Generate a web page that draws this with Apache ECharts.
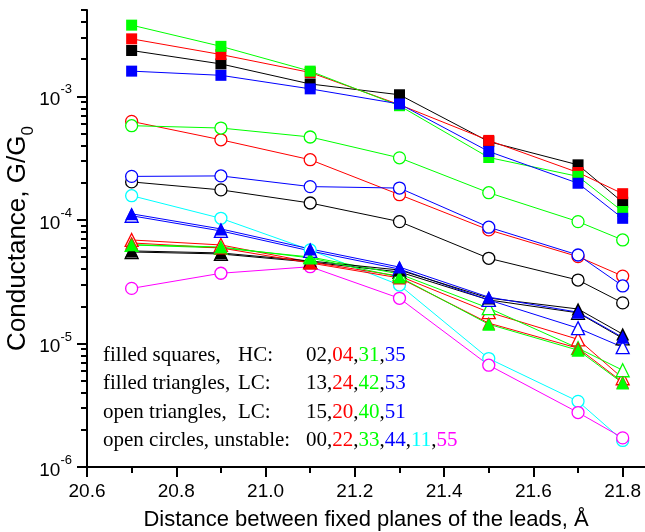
<!DOCTYPE html>
<html><head><meta charset="utf-8">
<script src="https://cdn.jsdelivr.net/npm/echarts@6/dist/echarts.min.js"></script>
<style>html,body{margin:0;padding:0;background:#fff}#c{width:645px;height:532px}</style>
</head><body><div id="c"></div>
<script>
// ---- data ----
const xValues = [20.7, 20.9, 21.1, 21.3, 21.5, 21.7, 21.8];

// filled squares, HC
const hc02 = [2.35e-3, 1.83e-3, 1.26e-3, 1.03e-3, 4.3e-4, 2.79e-4, 1.39e-4];
const hc04 = [2.92e-3, 2.18e-3, 1.56e-3, 8.56e-4, 4.40e-4, 2.42e-4, 1.63e-4];
const hc31 = [3.77e-3, 2.54e-3, 1.60e-3, 8.4e-4, 3.2e-4, 2.25e-4, 1.17e-4];
const hc35 = [1.60e-3, 1.48e-3, 1.15e-3, 8.68e-4, 3.58e-4, 1.98e-4, 1.03e-4];

// filled triangles, LC
const lc13 = [5.61e-5, 5.40e-5, 4.65e-5, 3.93e-5, 2.33e-5, 1.90e-5, 1.19e-5];
const lc24 = [6.51e-5, 5.93e-5, 4.48e-5, 3.39e-5, 1.46e-5, 9.16e-6, 4.86e-6];
const lc42 = [6.3e-5, 6.04e-5, 4.92e-5, 3.45e-5, 1.43e-5, 8.82e-6, 4.78e-6];
const lc53 = [1.12e-4, 8.45e-5, 5.82e-5, 4.15e-5, 2.37e-5, 1.79e-5, 1.12e-5];

// open triangles, LC
const lc15 = [5.50e-5, 5.30e-5, 4.56e-5, 3.79e-5, 2.25e-5, 1.77e-5, 1.10e-5];
const lc20 = [6.88e-5, 6.27e-5, 4.56e-5, 3.51e-5, 1.79e-5, 1.08e-5, 5.23e-6];
const lc40 = [6.27e-5, 5.93e-5, 5.01e-5, 3.65e-5, 1.93e-5, 9.16e-6, 6.07e-6];
const lc51 = [1.08e-4, 8.14e-5, 5.61e-5, 4.00e-5, 2.25e-5, 1.33e-5, 9.33e-6];

// open circles, unstable
const un00 = [2.03e-4, 1.75e-4, 1.37e-4, 9.69e-5, 4.89e-5, 3.26e-5, 2.13e-5];
const un22 = [6.27e-4, 4.45e-4, 3.07e-4, 1.60e-4, 8.30e-5, 5.04e-5, 3.51e-5];
const un33 = [5.79e-4, 5.54e-4, 4.69e-4, 3.18e-4, 1.66e-4, 9.69e-5, 6.88e-5];
const un44 = [2.25e-4, 2.27e-4, 1.86e-4, 1.81e-4, 8.73e-5, 5.20e-5, 2.92e-5];
const un11 = [1.57e-4, 1.03e-4, 5.71e-5, 2.97e-5, 7.55e-6, 3.40e-6, 1.64e-6];
const un55 = [2.79e-5, 3.70e-5, 4.18e-5, 2.32e-5, 6.67e-6, 2.76e-6, 1.72e-6];

// ticks
const xTickLabels = [20.6, 20.8, 21.0, 21.2, 21.4, 21.6, 21.8];
const xMinorTicks = [20.7, 20.9, 21.1, 21.3, 21.5, 21.7];
const yTickLabels = [1e-6, 1e-5, 1e-4, 1e-3];

// legend text rows
const legendRows = [
  ['filled squares,', 'HC:', ['02', '04', '31', '35']],
  ['filled triangles,', 'LC:', ['13', '24', '42', '53']],
  ['open triangles,', 'LC:', ['15', '20', '40', '51']],
  ['open circles, unstable:', '', ['00', '22', '33', '44', '11', '55']]
];

// ---- styling ----
const C = { k: '#000000', r: '#ff0000', g: '#00ff00', b: '#0000ff', c: '#00ffff', m: '#ff00ff' };
const numColors = [C.k, C.r, C.g, C.b, C.c, C.m];
const yMinorTicks = [];
for (let e = -6; e <= -3; e++) {
  for (let m = 2; m <= 9; m++) {
    const v = m * Math.pow(10, e);
    if (v <= 5.0001e-3) yMinorTicks.push(v);
  }
}

function mk(name, vals, color, symbol, size, filled) {
  return {
    name, type: 'line',
    data: xValues.map((x, i) => [x, vals[i]]),
    symbol, symbolSize: size, showSymbol: true,
    lineStyle: { color, width: 1 },
    itemStyle: filled ? { color, borderColor: color, borderWidth: 0 } : { color: '#ffffff', borderColor: color, borderWidth: 1.3 },
    emphasis: { disabled: true },
    animation: false
  };
}

const series = [
  mk('00', un00, C.k, 'circle', 12, false),
  mk('22', un22, C.r, 'circle', 12, false),
  mk('33', un33, C.g, 'circle', 12, false),
  mk('44', un44, C.b, 'circle', 12, false),
  mk('11', un11, C.c, 'circle', 12, false),
  mk('55', un55, C.m, 'circle', 12, false),
  mk('15', lc15, C.k, 'triangle', 13, false),
  mk('20', lc20, C.r, 'triangle', 13, false),
  mk('40', lc40, C.g, 'triangle', 13, false),
  mk('51', lc51, C.b, 'triangle', 13, false),
  mk('13', lc13, C.k, 'triangle', 13, true),
  mk('24', lc24, C.r, 'triangle', 13, true),
  mk('42', lc42, C.g, 'triangle', 13, true),
  mk('53', lc53, C.b, 'triangle', 13, true),
  mk('02', hc02, C.k, 'rect', 11, true),
  mk('04', hc04, C.r, 'rect', 11, true),
  mk('31', hc31, C.g, 'rect', 11, true),
  mk('35', hc35, C.b, 'rect', 11, true)
];

const sans = '"Liberation Sans", Arial, sans-serif';
const serif = '"Liberation Serif", "Times New Roman", serif';
const LF = 21;

const graphic = [];
const rowY = [355, 383, 412, 440];
legendRows.forEach((row, i) => {
  graphic.push({ type: 'text', x: 103, y: rowY[i], silent: true,
    style: { text: row[0], fill: '#000', fontSize: LF, fontFamily: serif, verticalAlign: 'middle' } });
  if (row[1]) graphic.push({ type: 'text', x: 238, y: rowY[i], silent: true,
    style: { text: row[1], fill: '#000', fontSize: LF, fontFamily: serif, verticalAlign: 'middle' } });
  const rich = { sep: { fill: '#000', fontSize: LF, fontFamily: serif } };
  const parts = row[2].map((n, j) => { rich['c' + j] = { fill: numColors[j], fontSize: LF, fontFamily: serif }; return '{c' + j + '|' + n + '}'; });
  graphic.push({ type: 'text', x: 306, y: rowY[i], silent: true,
    style: { text: parts.join('{sep|,}'), rich, fill: '#000', fontSize: LF, fontFamily: serif, verticalAlign: 'middle' } });
});

const chart = echarts.init(document.getElementById('c'), null, { renderer: 'canvas' });
chart.setOption({
  backgroundColor: '#ffffff',
  animation: false,
  grid: { left: 87, right: 0, top: 10, bottom: 65, containLabel: false, outerBoundsMode: 'none' },
  xAxis: [{
    type: 'value', min: 20.6, max: 21.85,
    axisLine: { show: true, lineStyle: { color: '#000', width: 2 } },
    axisTick: { show: true, length: 10, customValues: xTickLabels, lineStyle: { color: '#000', width: 2 } },
    axisLabel: { customValues: xTickLabels, formatter: v => Number(v).toFixed(1), fontSize: 19, color: '#000', fontFamily: sans, margin: 15 },
    splitLine: { show: false },
    name: 'Distance between fixed planes of the leads, Å', nameLocation: 'middle', nameGap: 42, nameMoveOverlap: false,
    nameTextStyle: { fontSize: 22, color: '#000', fontFamily: sans }
  }, {
    type: 'value', min: 20.6, max: 21.85, position: 'bottom',
    axisLine: { show: false },
    axisTick: { show: true, length: 6, customValues: xMinorTicks, lineStyle: { color: '#000', width: 2 } },
    axisLabel: { show: false }, splitLine: { show: false }
  }],
  yAxis: [{
    type: 'log', logBase: 10, min: 1e-6, max: 5e-3,
    axisLine: { show: true, lineStyle: { color: '#000', width: 2 } },
    axisTick: { show: true, length: 10, customValues: yTickLabels, lineStyle: { color: '#000', width: 2 } },
    axisLabel: {
      customValues: yTickLabels, margin: 15,
      formatter: v => '{b|10}{s|' + Math.round(Math.log10(v)) + '}',
      rich: {
        b: { fontSize: 19, fontFamily: sans, color: '#000', lineHeight: 26, verticalAlign: 'bottom' },
        s: { fontSize: 13, fontFamily: sans, color: '#000', lineHeight: 26, verticalAlign: 'top' }
      }
    },
    splitLine: { show: false },
    name: '{n|Conductance, G/G}{sub|0}', nameLocation: 'middle', nameRotate: 90, nameGap: 50, nameMoveOverlap: false,
    nameTextStyle: {
      rich: {
        n: { fontSize: 26, fontFamily: sans, color: '#000', lineHeight: 32, verticalAlign: 'top' },
        sub: { fontSize: 17, fontFamily: sans, color: '#000', lineHeight: 32, verticalAlign: 'bottom' }
      }
    }
  }, {
    type: 'log', logBase: 10, min: 1e-6, max: 5e-3, position: 'left',
    axisLine: { show: false },
    axisTick: { show: true, length: 6, customValues: yMinorTicks, lineStyle: { color: '#000', width: 2 } },
    axisLabel: { show: false }, splitLine: { show: false }
  }],
  series,
  graphic
});
</script></body></html>
